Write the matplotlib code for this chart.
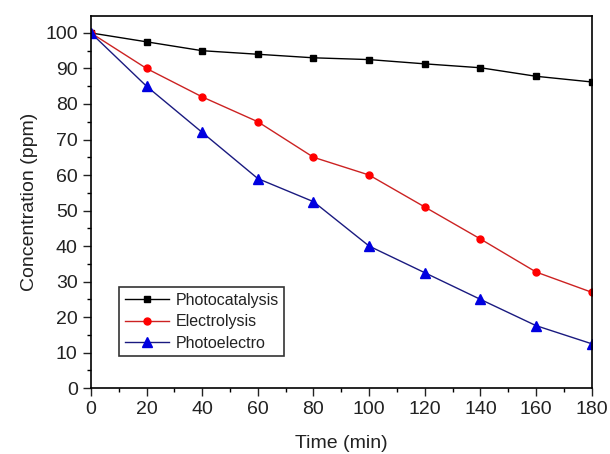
import matplotlib.pyplot as plt
from matplotlib.ticker import MultipleLocator

plt.rcParams['font.family'] = ['Liberation Sans', 'DejaVu Sans']

# data
time = [0, 20, 40, 60, 80, 100, 120, 140, 160, 180]
photocatalysis = [100, 97.5, 95, 94, 93, 92.5, 91.3, 90.2, 87.8, 86.2]
electrolysis = [100, 90, 82, 75, 65, 60, 51, 42, 32.7, 27]
photoelectro = [100, 85, 72, 59, 52.5, 40, 32.5, 25, 17.6, 12.5]

fig = plt.figure(figsize=(6.1, 4.54), dpi=100)
ax = fig.add_axes([0.149, 0.145, 0.821, 0.82])

ax.plot(time, photocatalysis, color='black', marker='s', markersize=5, linewidth=1, label='Photocatalysis')
ax.plot(time, electrolysis, color='#cc2222', marker='o', markersize=5, markerfacecolor='red',
        markeredgecolor='red', linewidth=1, label='Electrolysis')
ax.plot(time, photoelectro, color='#1a1a80', marker='^', markersize=7, markerfacecolor='#0000e0',
        markeredgecolor='#0000e0', linewidth=1, label='Photoelectro')

ax.set_xlim(0, 180)
ax.set_ylim(0, 104.8)
ax.xaxis.set_major_locator(MultipleLocator(20))
ax.xaxis.set_minor_locator(MultipleLocator(10))
ax.yaxis.set_major_locator(MultipleLocator(10))
ax.yaxis.set_minor_locator(MultipleLocator(5))
ax.tick_params(which='major', direction='out', length=6, width=1, labelsize=14, colors='#222222')
ax.tick_params(which='minor', direction='out', length=3, width=1)
ax.tick_params(top=False, right=False)
for s in ax.spines.values():
    s.set_linewidth(1.2)

ax.set_xlabel('Time (min)', fontsize=14, labelpad=12, color='#222222')
ax.set_ylabel('Concentration (ppm)', fontsize=14, labelpad=5, color='#222222')

leg = ax.legend(loc='lower left', bbox_to_anchor=(0.056, 0.086), borderaxespad=0, fontsize=11.5,
                frameon=True, fancybox=False, edgecolor='black', handlelength=2.8, borderpad=0.35,
                labelspacing=0.4, handletextpad=0.4)
leg.get_frame().set_linewidth(1.2)
for t in leg.get_texts():
    t.set_color('#222222')

fig.savefig('out.png', dpi=100)
